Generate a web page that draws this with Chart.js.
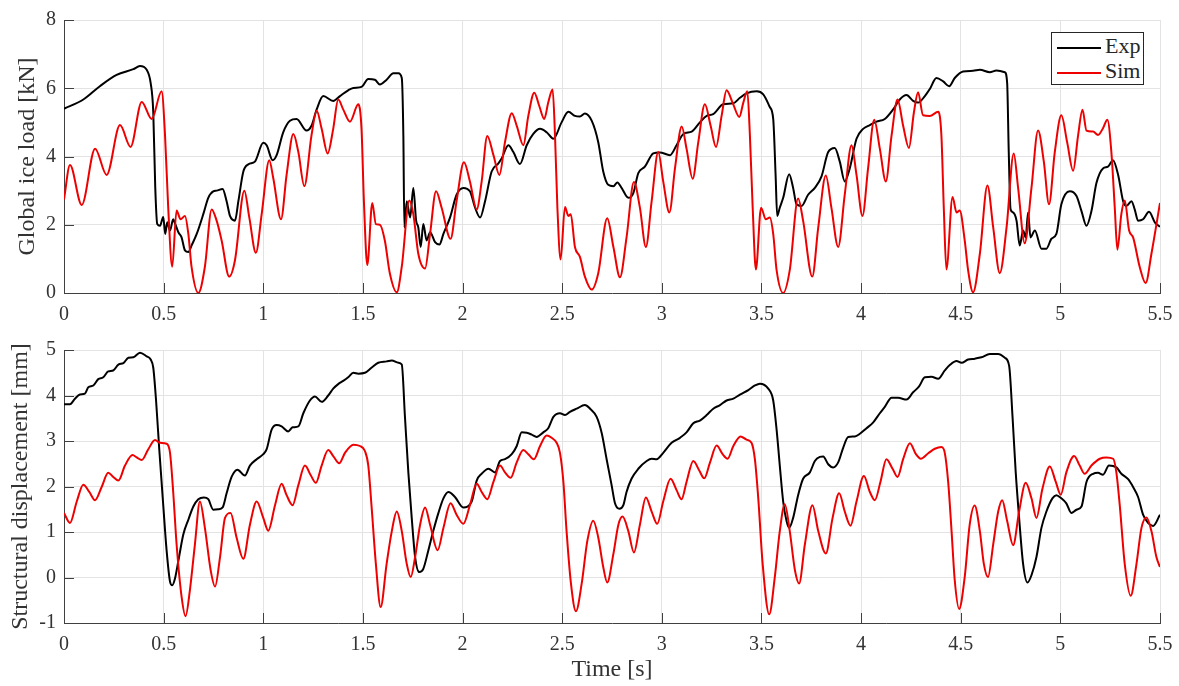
<!DOCTYPE html>
<html>
<head>
<meta charset="utf-8">
<script src="https://cdn.jsdelivr.net/npm/chart.js@4.4.1/dist/chart.umd.min.js"></script>
<style>
  body { margin: 0; background: #fff; }
  #wrap { position: relative; width: 1179px; height: 686px; }
  canvas { position: absolute; left: 0; }
  #load-chart { top: 0; }
  #disp-chart { top: 330px; }
  #legend {
    position: absolute; left: 1051px; top: 32px; width: 91px; height: 51px;
    border: 1px solid #262626; background: #fff;
    font: 22px "Liberation Serif", serif; color: #262626;
  }
  .row { position: absolute; left: 5px; height: 26px; line-height: 26px; white-space: nowrap; }
  .row .l { display: inline-block; width: 44px; height: 2px; vertical-align: middle; margin-right: 4px; }
</style>
</head>
<body>
<div id="wrap">
  <canvas id="load-chart" width="1179" height="330"></canvas>
  <canvas id="disp-chart" width="1179" height="356"></canvas>
  <div id="legend">
    <div class="row" style="top:0px"><span class="l" style="background:#000"></span>Exp</div>
    <div class="row" style="top:25px"><span class="l" style="background:#ee0000"></span>Sim</div>
  </div>
</div>
<script>
// global ice load, experiment
const expLoadT = [0,0.097,0.18,0.264,0.348,0.381,0.415,0.435,0.448,0.458,0.468,0.482,0.498,0.508,0.518,0.532,0.548,0.557,0.574,0.59,0.607,0.624,0.64,0.666,0.699,0.724,0.749,0.766,0.796,0.816,0.833,0.858,0.875,0.9,0.925,0.958,1.0,1.017,1.047,1.067,1.1,1.134,1.167,1.217,1.242,1.268,1.301,1.351,1.385,1.426,1.452,1.493,1.527,1.56,1.585,1.619,1.653,1.678,1.695,1.703,1.708,1.72,1.737,1.753,1.767,1.778,1.79,1.803,1.82,1.837,1.862,1.884,1.904,1.937,1.97,2.004,2.037,2.063,2.088,2.113,2.146,2.18,2.196,2.23,2.255,2.288,2.322,2.355,2.389,2.422,2.456,2.497,2.531,2.564,2.589,2.614,2.648,2.681,2.706,2.731,2.757,2.777,2.798,2.832,2.857,2.882,2.915,2.957,2.99,3.041,3.074,3.108,3.15,3.191,3.225,3.258,3.308,3.359,3.392,3.425,3.476,3.509,3.542,3.559,3.571,3.579,3.592,3.609,3.639,3.659,3.676,3.701,3.734,3.768,3.801,3.835,3.868,3.893,3.918,3.943,3.977,4.01,4.044,4.077,4.119,4.161,4.194,4.228,4.261,4.286,4.32,4.345,4.378,4.412,4.442,4.47,4.512,4.562,4.596,4.646,4.679,4.721,4.733,4.741,4.75,4.763,4.78,4.796,4.813,4.826,4.838,4.85,4.872,4.905,4.93,4.955,4.98,5.005,5.047,5.081,5.106,5.131,5.156,5.181,5.214,5.239,5.264,5.29,5.315,5.331,5.357,5.373,5.39,5.415,5.445,5.474,5.5];
const expLoadV = [5.40,5.67,6.06,6.39,6.56,6.65,6.54,6.15,5.29,3.08,2.02,1.97,2.23,1.73,2.07,1.83,2.16,2.04,1.78,1.63,1.25,1.20,1.39,1.73,2.31,2.79,2.98,3.0,3.05,2.69,2.26,2.12,2.69,3.56,3.77,3.85,4.40,4.33,3.89,4.04,4.71,5.05,5.10,4.76,4.90,5.38,5.77,5.63,5.77,5.94,6.01,6.04,6.27,6.25,6.11,6.25,6.44,6.44,6.30,4.6,1.92,2.69,2.21,3.08,2.12,1.92,1.35,2.02,1.54,1.78,1.49,1.42,1.73,2.21,2.88,3.08,2.98,2.5,2.21,2.69,3.56,3.80,3.94,4.33,4.13,3.78,4.33,4.66,4.81,4.71,4.52,5.0,5.31,5.19,5.17,5.26,5.05,4.42,3.56,3.17,3.13,3.24,3.08,2.79,2.93,3.51,3.70,4.09,4.12,4.04,4.33,4.66,4.73,5.0,5.19,5.24,5.53,5.56,5.72,5.85,5.91,5.82,5.45,5.1,3.46,2.26,2.5,2.79,3.48,3.08,2.6,2.55,2.88,3.08,3.41,4.13,4.25,3.85,3.27,3.65,4.52,4.81,4.92,5.02,5.10,5.38,5.67,5.80,5.63,5.58,5.77,5.98,6.30,6.20,6.06,6.30,6.49,6.51,6.54,6.47,6.52,6.47,6.15,4.13,2.45,2.36,2.12,1.39,1.83,1.63,2.36,1.63,1.83,1.30,1.30,1.59,1.73,2.6,2.98,2.84,2.4,1.97,2.40,3.22,3.65,3.70,3.89,3.46,2.69,2.55,2.69,2.45,2.12,2.16,2.38,2.07,1.94];

// global ice load, simulation
const simLoadT = [0,0.03,0.089,0.156,0.214,0.281,0.334,0.39,0.44,0.49,0.507,0.523,0.543,0.565,0.585,0.607,0.624,0.64,0.674,0.707,0.741,0.766,0.791,0.829,0.858,0.905,0.93,0.963,0.992,1.03,1.05,1.089,1.117,1.151,1.176,1.206,1.242,1.268,1.293,1.323,1.351,1.376,1.401,1.435,1.477,1.493,1.505,1.522,1.547,1.565,1.585,1.61,1.635,1.67,1.695,1.733,1.753,1.778,1.812,1.837,1.867,1.895,1.94,1.97,2.007,2.037,2.071,2.096,2.124,2.155,2.185,2.213,2.247,2.272,2.305,2.33,2.36,2.385,2.41,2.43,2.452,2.464,2.476,2.492,2.514,2.531,2.543,2.564,2.589,2.614,2.648,2.681,2.726,2.757,2.79,2.823,2.86,2.89,2.92,2.949,2.982,3.007,3.038,3.066,3.1,3.124,3.155,3.183,3.216,3.245,3.272,3.3,3.325,3.355,3.389,3.409,3.429,3.442,3.456,3.472,3.498,3.522,3.542,3.559,3.576,3.609,3.642,3.684,3.709,3.755,3.785,3.823,3.851,3.885,3.918,3.952,3.977,4.007,4.035,4.066,4.094,4.124,4.153,4.183,4.211,4.24,4.265,4.286,4.311,4.345,4.387,4.403,4.415,4.428,4.459,4.479,4.495,4.52,4.537,4.562,4.596,4.634,4.663,4.696,4.73,4.766,4.788,4.821,4.855,4.888,4.917,4.943,4.972,5.005,5.034,5.064,5.089,5.111,5.131,5.164,5.189,5.214,5.236,5.256,5.273,5.286,5.306,5.323,5.345,5.365,5.398,5.428,5.457,5.5];
const simLoadV = [2.74,3.75,2.58,4.23,3.46,4.92,4.28,5.60,5.10,5.91,4.62,2.5,0.77,2.42,2.16,2.26,1.73,0.77,0.0,0.77,2.45,2.12,1.54,0.48,0.96,3.0,2.21,1.18,2.31,3.89,3.37,2.16,3.46,4.66,4.13,3.13,4.62,5.34,4.81,4.09,4.81,5.67,5.38,5.02,5.53,4.81,2.69,0.82,2.64,2.02,2.0,1.54,0.58,0.02,0.77,2.71,2.31,1.15,0.72,1.73,2.98,2.5,1.59,2.69,3.83,3.27,2.45,3.27,4.60,4.04,3.46,4.42,5.27,4.90,4.33,5.19,5.87,5.48,5.10,5.58,5.96,4.62,2.5,0.98,2.52,2.26,2.31,1.35,1.06,0.48,0.10,0.58,2.19,1.35,0.46,1.63,3.25,2.5,1.35,2.69,4.13,3.27,2.36,3.65,4.88,4.23,3.35,4.42,5.53,4.90,4.28,5.19,5.94,5.58,5.16,5.58,5.91,4.62,2.5,0.69,2.5,2.16,2.21,1.73,0.67,0.0,0.67,2.77,2.12,0.48,1.92,3.44,2.5,1.35,2.88,4.33,3.46,2.26,3.65,5.08,4.23,3.27,4.62,5.67,4.90,4.25,5.29,5.88,5.21,5.19,5.31,4.62,2.5,0.69,2.81,2.36,2.42,1.54,0.67,0.02,1.15,3.15,1.92,0.58,1.92,4.09,3.08,1.46,3.08,4.76,3.85,2.6,4.13,5.21,4.42,3.58,4.62,5.37,4.76,4.73,4.63,4.83,5.08,4.13,2.5,1.27,2.31,2.71,1.83,1.63,0.77,0.29,1.15,2.64];

// structural displacement, experiment
const expDispT = [0,0.03,0.055,0.08,0.105,0.122,0.147,0.172,0.197,0.222,0.247,0.273,0.298,0.323,0.348,0.381,0.415,0.435,0.448,0.462,0.478,0.498,0.515,0.532,0.543,0.557,0.574,0.599,0.624,0.649,0.674,0.702,0.724,0.749,0.774,0.796,0.816,0.841,0.87,0.908,0.933,0.967,1.0,1.017,1.042,1.067,1.092,1.125,1.147,1.176,1.201,1.234,1.259,1.293,1.326,1.351,1.376,1.401,1.426,1.452,1.477,1.51,1.543,1.577,1.619,1.645,1.678,1.695,1.711,1.728,1.745,1.762,1.783,1.803,1.828,1.853,1.879,1.904,1.929,1.962,2.004,2.046,2.071,2.096,2.13,2.163,2.188,2.213,2.247,2.272,2.297,2.322,2.347,2.372,2.405,2.43,2.456,2.489,2.514,2.539,2.573,2.614,2.64,2.673,2.698,2.723,2.748,2.765,2.787,2.807,2.823,2.848,2.882,2.924,2.949,2.974,3.007,3.049,3.091,3.124,3.158,3.191,3.225,3.258,3.292,3.325,3.359,3.392,3.434,3.467,3.492,3.534,3.559,3.576,3.592,3.609,3.626,3.639,3.659,3.684,3.709,3.743,3.768,3.793,3.81,3.835,3.86,3.885,3.91,3.935,3.969,3.994,4.027,4.061,4.094,4.119,4.153,4.186,4.228,4.261,4.291,4.32,4.353,4.387,4.42,4.445,4.479,4.504,4.537,4.571,4.604,4.646,4.688,4.721,4.743,4.76,4.776,4.793,4.813,4.835,4.855,4.88,4.905,4.93,4.96,4.98,5.005,5.03,5.055,5.081,5.106,5.131,5.164,5.189,5.214,5.244,5.281,5.306,5.34,5.365,5.39,5.415,5.44,5.465,5.5];
const expDispV = [3.81,3.81,3.93,4.02,4.04,4.18,4.22,4.36,4.40,4.53,4.55,4.68,4.71,4.83,4.84,4.94,4.86,4.79,4.61,3.89,2.82,1.59,0.59,-0.09,-0.17,-0.02,0.37,0.95,1.27,1.56,1.72,1.76,1.72,1.49,1.50,1.54,1.85,2.21,2.37,2.24,2.46,2.60,2.71,2.82,3.25,3.35,3.32,3.21,3.30,3.32,3.61,3.89,3.98,3.86,4.00,4.15,4.25,4.32,4.40,4.50,4.48,4.50,4.61,4.72,4.75,4.77,4.72,4.68,3.53,2.31,1.31,0.45,0.12,0.19,0.59,1.02,1.42,1.74,1.88,1.77,1.54,1.67,2.13,2.28,2.39,2.31,2.56,2.60,2.71,2.89,3.19,3.18,3.14,3.09,3.19,3.28,3.53,3.61,3.57,3.64,3.71,3.79,3.71,3.53,3.18,2.60,2.03,1.63,1.51,1.59,1.88,2.17,2.39,2.56,2.61,2.60,2.74,2.96,3.07,3.19,3.39,3.45,3.57,3.71,3.79,3.89,3.93,4.02,4.12,4.22,4.26,4.15,3.89,3.25,2.46,1.67,1.24,1.09,1.31,1.81,2.17,2.31,2.56,2.65,2.66,2.49,2.42,2.53,2.85,3.09,3.10,3.16,3.28,3.41,3.61,3.75,3.95,3.95,3.91,4.07,4.20,4.40,4.41,4.37,4.55,4.67,4.76,4.72,4.79,4.81,4.84,4.91,4.91,4.83,4.65,3.53,2.31,1.31,0.30,-0.11,0.05,0.45,1.09,1.45,1.74,1.81,1.74,1.63,1.42,1.49,1.56,2.10,2.28,2.30,2.26,2.46,2.42,2.28,2.16,1.99,1.77,1.38,1.20,1.13,1.38];

// structural displacement, simulation
const simDispT = [0,0.03,0.064,0.097,0.127,0.156,0.189,0.222,0.247,0.273,0.306,0.344,0.365,0.39,0.423,0.457,0.482,0.515,0.532,0.548,0.565,0.59,0.61,0.632,0.657,0.682,0.707,0.736,0.758,0.783,0.808,0.836,0.866,0.9,0.933,0.967,1.0,1.025,1.059,1.092,1.117,1.147,1.176,1.209,1.239,1.264,1.293,1.326,1.351,1.381,1.41,1.452,1.485,1.51,1.527,1.543,1.565,1.589,1.619,1.645,1.67,1.695,1.72,1.74,1.762,1.787,1.812,1.837,1.875,1.904,1.94,1.97,2.004,2.037,2.071,2.096,2.124,2.155,2.188,2.213,2.241,2.272,2.305,2.33,2.358,2.389,2.422,2.447,2.472,2.489,2.506,2.522,2.544,2.569,2.598,2.626,2.656,2.681,2.706,2.726,2.757,2.782,2.803,2.832,2.86,2.89,2.92,2.949,2.977,3.007,3.044,3.074,3.099,3.124,3.158,3.188,3.213,3.242,3.275,3.305,3.33,3.359,3.395,3.425,3.45,3.467,3.484,3.506,3.539,3.567,3.592,3.617,3.642,3.668,3.689,3.718,3.756,3.785,3.823,3.857,3.89,3.918,3.947,3.977,4.014,4.044,4.069,4.097,4.127,4.158,4.183,4.211,4.245,4.275,4.3,4.337,4.37,4.403,4.42,4.437,4.454,4.47,4.492,4.52,4.545,4.57,4.596,4.616,4.637,4.663,4.688,4.708,4.733,4.763,4.793,4.826,4.855,4.88,4.91,4.947,4.977,5.002,5.03,5.069,5.097,5.122,5.156,5.198,5.231,5.265,5.281,5.298,5.323,5.353,5.382,5.407,5.432,5.457,5.482,5.5];
const simDispV = [1.42,1.20,1.67,2.04,1.88,1.70,1.99,2.30,2.21,2.13,2.46,2.69,2.64,2.58,2.82,3.02,2.96,2.94,2.74,1.88,0.73,-0.42,-0.85,-0.27,0.73,1.67,1.09,0.16,-0.20,0.45,1.31,1.42,0.88,0.41,1.16,1.67,1.31,1.03,1.59,2.06,1.81,1.59,2.03,2.46,2.24,2.08,2.46,2.80,2.67,2.51,2.74,2.92,2.89,2.78,2.46,1.59,0.30,-0.65,0.30,1.02,1.45,1.02,0.30,0.01,0.45,1.16,1.54,1.16,0.60,1.09,1.63,1.38,1.18,1.59,2.06,1.88,1.72,2.10,2.46,2.31,2.19,2.53,2.80,2.71,2.60,2.89,3.12,3.07,2.96,2.74,2.10,1.02,-0.13,-0.74,-0.13,0.80,1.25,0.88,0.23,-0.11,0.52,1.16,1.34,1.02,0.55,1.16,1.76,1.45,1.18,1.67,2.17,1.92,1.72,2.10,2.56,2.35,2.18,2.53,2.90,2.71,2.61,2.89,3.10,3.03,2.96,2.60,1.74,0.30,-0.81,0.01,1.02,1.61,1.02,0.16,-0.13,0.73,1.59,1.02,0.53,1.31,1.85,1.45,1.14,1.67,2.23,1.88,1.70,2.10,2.60,2.39,2.21,2.60,2.95,2.71,2.61,2.73,2.83,2.87,2.74,2.10,1.02,-0.06,-0.69,0.01,1.16,1.58,1.02,0.30,0.01,0.73,1.45,1.70,1.24,0.71,1.45,2.08,1.74,1.31,1.95,2.44,2.10,1.82,2.31,2.67,2.46,2.28,2.46,2.61,2.64,2.61,2.31,1.59,0.30,-0.40,0.30,1.09,1.32,1.02,0.45,0.23];

const xTicks = [0, 0.5, 1, 1.5, 2, 2.5, 3, 3.5, 4, 4.5, 5, 5.5];

const serif = '"Liberation Serif", "Times New Roman", serif';
const ink = "#333333";

function pts(t, v) {
  return t.map((x, i) => ({ x: x, y: v[i] }));
}

function series(label, t, v, color, order) {
  return {
    label: label,
    data: pts(t, v),
    borderColor: color,
    borderWidth: 2,
    pointRadius: 0,
    fill: false,
    cubicInterpolationMode: "monotone",
    order: order,
  };
}

// matlab style inward tick marks
const innerTicks = {
  id: "innerTicks",
  afterDraw(chart) {
    const { ctx, chartArea: a, scales } = chart;
    ctx.save();
    ctx.strokeStyle = "#404040";
    ctx.lineWidth = 1;
    ctx.beginPath();
    scales.x.ticks.forEach((t) => {
      const px = Math.round(scales.x.getPixelForValue(t.value)) + 0.5;
      ctx.moveTo(px, a.bottom);
      ctx.lineTo(px, a.bottom - 10);
    });
    scales.y.ticks.forEach((t) => {
      const py = Math.round(scales.y.getPixelForValue(t.value)) + 0.5;
      ctx.moveTo(a.left, py);
      ctx.lineTo(a.left + 10, py);
    });
    ctx.stroke();
    ctx.restore();
  },
};

function options(yMin, yMax, yStep, yTitle, titlePad, xHeight, padTop, xTitle) {
  return {
    responsive: false,
    animation: false,
    layout: { padding: { top: padTop, right: 19, left: 0, bottom: 0 } },
    plugins: { legend: { display: false }, tooltip: { enabled: false } },
    scales: {
      x: {
        type: "linear",
        min: 0,
        max: 5.5,
        afterFit: (s) => { s.height = xHeight; },
        afterBuildTicks: (s) => { s.ticks = xTicks.map((v) => ({ value: v })); },
        grid: { color: "#e3e3e3", drawTicks: false },
        border: { color: "#404040", width: 1 },
        ticks: {
          padding: 6,
          color: ink,
          font: { family: serif, size: 20, lineHeight: 1.6 },
          callback: (v) => String(v),
        },
        title: {
          display: !!xTitle,
          text: xTitle || "",
          color: ink,
          font: { family: serif, size: 24 },
          padding: { top: 0, bottom: 2 },
        },
      },
      y: {
        min: yMin,
        max: yMax,
        afterFit: (s) => { s.width = 64; },
        grid: { color: "#e3e3e3", drawTicks: false },
        border: { color: "#404040", width: 1 },
        ticks: { stepSize: yStep, padding: 8, color: ink, font: { family: serif, size: 20 } },
        title: {
          display: true,
          text: yTitle,
          color: ink,
          font: { family: serif, size: 24 },
          padding: { top: titlePad, bottom: 0 },
        },
      },
    },
  };
}

const loadChart = document.getElementById("load-chart");
new Chart(loadChart, {
  type: "line",
  data: {
    datasets: [
      series("Exp", expLoadT, expLoadV, "#000000", 1),
      series("Sim", simLoadT, simLoadV, "#ee0000", 0),
    ],
  },
  options: options(0, 8, 2, "Global ice load [kN]", 13, 37, 16, null),
  plugins: [innerTicks],
});

const dispChart = document.getElementById("disp-chart");
new Chart(dispChart, {
  type: "line",
  data: {
    datasets: [
      series("Exp", expDispT, expDispV, "#000000", 1),
      series("Sim", simDispT, simDispV, "#ee0000", 0),
    ],
  },
  options: options(-1, 5, 1, "Structural displacement [mm]", 6, 63, 15, "Time [s]"),
  plugins: [innerTicks],
});
</script>
</body>
</html>
